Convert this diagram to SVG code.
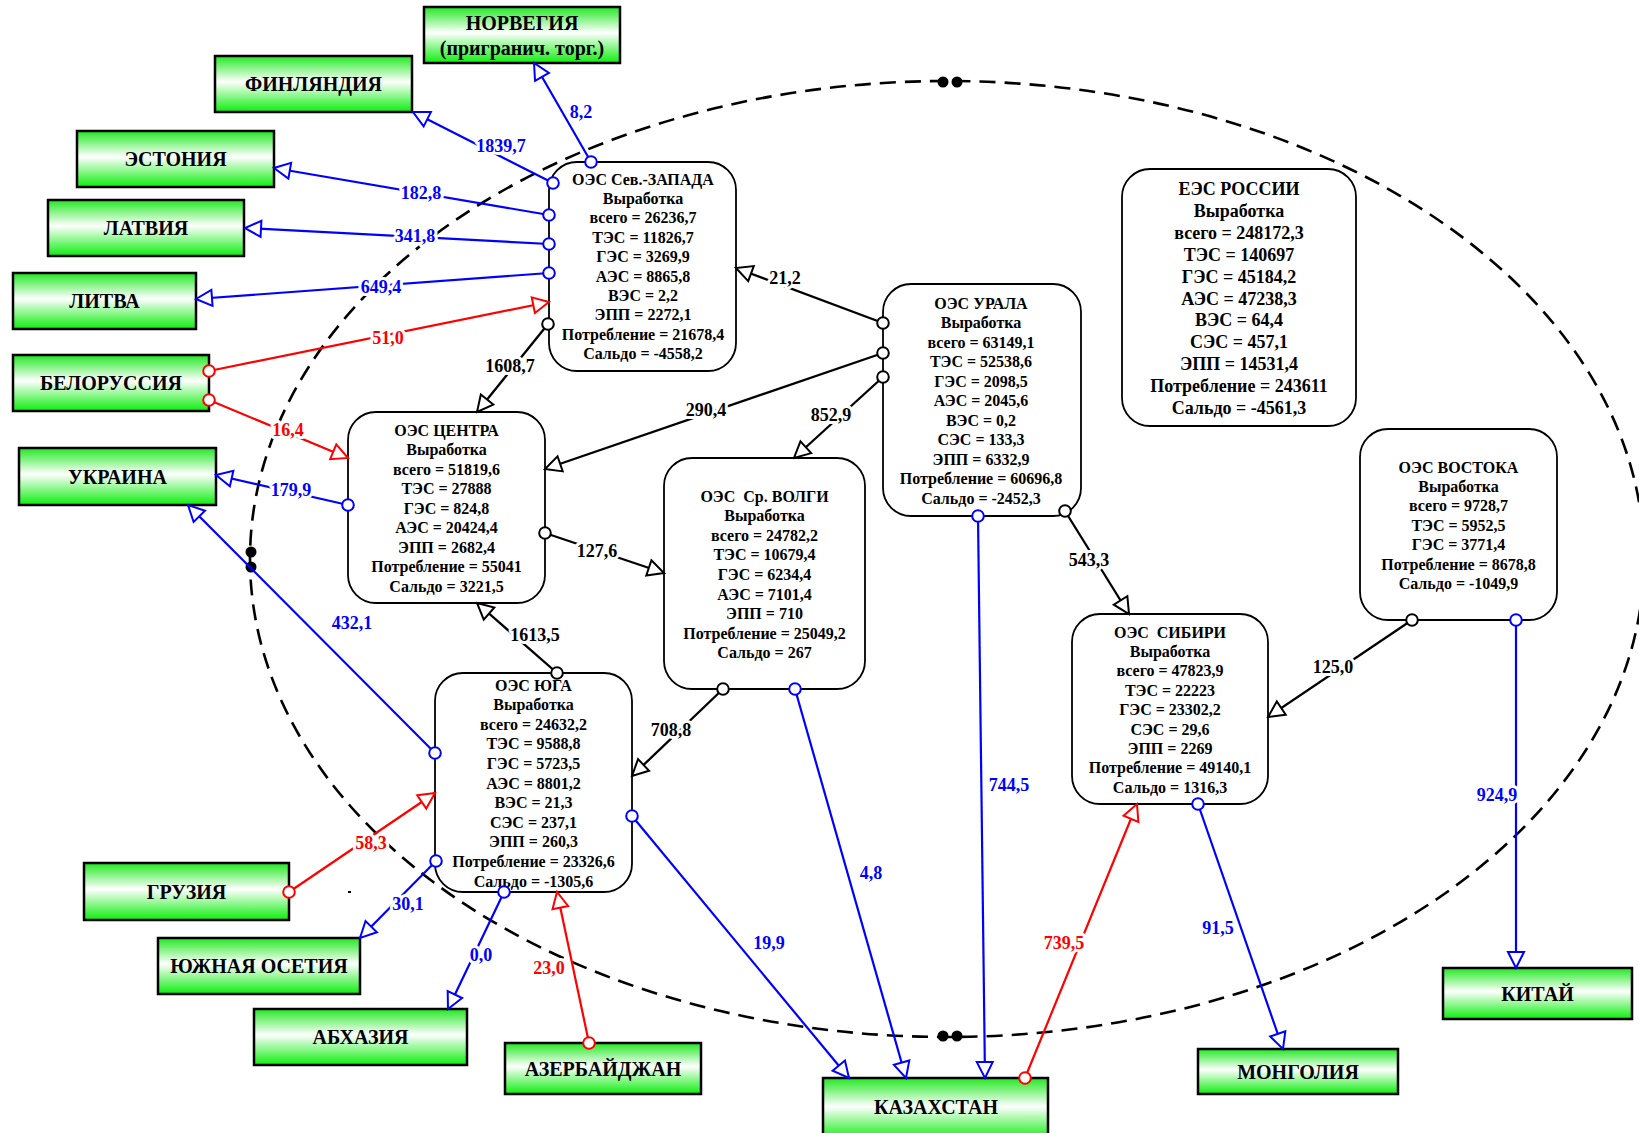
<svg xmlns="http://www.w3.org/2000/svg" width="1639" height="1133" viewBox="0 0 1639 1133">
<defs>
<linearGradient id="gg" x1="0" y1="0" x2="0" y2="1">
<stop offset="0" stop-color="#22e822"/>
<stop offset="0.46" stop-color="#ffffff"/>
<stop offset="1" stop-color="#0cee0c"/>
</linearGradient>
<marker id="ak" viewBox="-2 -2 20 20" refX="16" refY="8" markerWidth="20" markerHeight="20" orient="auto" markerUnits="userSpaceOnUse"><path d="M0,0 L16,8 L0,16 Z" fill="#fff" stroke="#000" stroke-width="2"/></marker>
<marker id="ab" viewBox="-2 -2 20 20" refX="16" refY="8" markerWidth="20" markerHeight="20" orient="auto" markerUnits="userSpaceOnUse"><path d="M0,0 L16,8 L0,16 Z" fill="#fff" stroke="#0000ff" stroke-width="2"/></marker>
<marker id="ar" viewBox="-2 -2 20 20" refX="16" refY="8" markerWidth="20" markerHeight="20" orient="auto" markerUnits="userSpaceOnUse"><path d="M0,0 L16,8 L0,16 Z" fill="#fff" stroke="#ff0000" stroke-width="2"/></marker>
<marker id="ck" viewBox="-8 -8 16 16" refX="0" refY="0" markerWidth="16" markerHeight="16" markerUnits="userSpaceOnUse"><circle r="5.8" fill="#fff" stroke="#000" stroke-width="2"/></marker>
<marker id="cb" viewBox="-8 -8 16 16" refX="0" refY="0" markerWidth="16" markerHeight="16" markerUnits="userSpaceOnUse"><circle r="5.8" fill="#fff" stroke="#0000ff" stroke-width="2"/></marker>
<marker id="cr" viewBox="-8 -8 16 16" refX="0" refY="0" markerWidth="16" markerHeight="16" markerUnits="userSpaceOnUse"><circle r="5.8" fill="#fff" stroke="#ff0000" stroke-width="2"/></marker>
</defs>
<style>
text{font-family:"Liberation Serif","Times New Roman",serif;font-weight:bold;text-anchor:middle}
.box{fill:url(#gg);stroke:#000;stroke-width:2.5}
.bt{font-size:20px;fill:#000}
.node{fill:#fff;stroke:#000;stroke-width:1.8}
.nt{font-size:16px;fill:#000}
.et{font-size:18px;fill:#000}
.k{stroke:#000;stroke-width:2.3;fill:none;marker-start:url(#ck);marker-end:url(#ak)}
.b{stroke:#0000ff;stroke-width:2.2;fill:none;marker-start:url(#cb);marker-end:url(#ab)}
.r{stroke:#ff0000;stroke-width:2.2;fill:none;marker-start:url(#cr);marker-end:url(#ar)}
.lbl{font-size:18px;paint-order:stroke;stroke:#fff;stroke-width:6;stroke-linejoin:round}
.lk{fill:#000}.lb{fill:#0000ff}.lr{fill:#ff0000}
</style>
<rect width="1639" height="1133" fill="#fff"/>
<g id="border">
<ellipse cx="947" cy="559" rx="697" ry="478" fill="none" stroke="#000" stroke-width="2.6" stroke-dasharray="16,9"/>
<circle cx="943" cy="82" r="5.5" fill="#000"/><circle cx="957" cy="82" r="5.5" fill="#000"/>
<circle cx="943" cy="1036" r="5.5" fill="#000"/><circle cx="957" cy="1036" r="5.5" fill="#000"/>
<circle cx="251" cy="552" r="5.5" fill="#000"/><circle cx="251" cy="567" r="5.5" fill="#000"/>
<rect x="348" y="891" width="3" height="2" fill="#000"/>
</g>
<g id="norway"><rect class="box" x="424" y="7" width="196" height="56"/><text class="bt" x="522" y="30">НОРВЕГИЯ</text><text class="bt" x="522" y="55">(пригранич. торг.)</text></g>
<g id="finland"><rect class="box" x="215" y="56" width="197" height="56"/><text class="bt" x="313.5" y="91">ФИНЛЯНДИЯ</text></g>
<g id="estonia"><rect class="box" x="77" y="131" width="197" height="56"/><text class="bt" x="175.5" y="166">ЭСТОНИЯ</text></g>
<g id="latvia"><rect class="box" x="48" y="200" width="196" height="56"/><text class="bt" x="146" y="235">ЛАТВИЯ</text></g>
<g id="lithuania"><rect class="box" x="13" y="273" width="183" height="56"/><text class="bt" x="104.5" y="308">ЛИТВА</text></g>
<g id="belarus"><rect class="box" x="13" y="355" width="196" height="56"/><text class="bt" x="111" y="390">БЕЛОРУССИЯ</text></g>
<g id="ukraine"><rect class="box" x="19" y="448" width="197" height="57"/><text class="bt" x="117.5" y="483.5">УКРАИНА</text></g>
<g id="georgia"><rect class="box" x="84" y="863" width="205" height="57"/><text class="bt" x="186.5" y="898.5">ГРУЗИЯ</text></g>
<g id="sossetia"><rect class="box" x="158" y="938" width="202" height="56"/><text class="bt" x="259" y="973">ЮЖНАЯ ОСЕТИЯ</text></g>
<g id="abkhazia"><rect class="box" x="254" y="1009" width="213" height="56"/><text class="bt" x="360.5" y="1044">АБХАЗИЯ</text></g>
<g id="azerbaijan"><rect class="box" x="505" y="1043" width="196" height="51"/><text class="bt" x="603" y="1075.5">АЗЕРБАЙДЖАН</text></g>
<g id="kazakhstan"><rect class="box" x="823" y="1078" width="225" height="62"/><text class="bt" x="936" y="1114">КАЗАХСТАН</text></g>
<g id="mongolia"><rect class="box" x="1198" y="1049" width="200" height="45"/><text class="bt" x="1298" y="1079">МОНГОЛИЯ</text></g>
<g id="china"><rect class="box" x="1443" y="968" width="189" height="51"/><text class="bt" x="1537.5" y="1000.5">КИТАЙ</text></g>

<g id="oes-nw"><rect class="node" x="549" y="162" width="187" height="209" rx="28"/>
<text class="nt"><tspan x="643" y="184.5">ОЭС Сев.-ЗАПАДА</tspan><tspan x="643" y="203.9">Выработка</tspan><tspan x="643" y="223.3">всего = 26236,7</tspan><tspan x="643" y="242.7">ТЭС = 11826,7</tspan><tspan x="643" y="262.1">ГЭС = 3269,9</tspan><tspan x="643" y="281.5">АЭС = 8865,8</tspan><tspan x="643" y="300.9">ВЭС = 2,2</tspan><tspan x="643" y="320.3">ЭПП = 2272,1</tspan><tspan x="643" y="339.7">Потребление = 21678,4</tspan><tspan x="643" y="359.1">Сальдо = -4558,2</tspan></text></g>
<g id="oes-ural"><rect class="node" x="883" y="284" width="198" height="232" rx="28"/>
<text class="nt"><tspan x="981" y="308.5">ОЭС УРАЛА</tspan><tspan x="981" y="328">Выработка</tspan><tspan x="981" y="347.5">всего = 63149,1</tspan><tspan x="981" y="367">ТЭС = 52538,6</tspan><tspan x="981" y="386.5">ГЭС = 2098,5</tspan><tspan x="981" y="406">АЭС = 2045,6</tspan><tspan x="981" y="425.5">ВЭС = 0,2</tspan><tspan x="981" y="445">СЭС = 133,3</tspan><tspan x="981" y="464.5">ЭПП = 6332,9</tspan><tspan x="981" y="484">Потребление = 60696,8</tspan><tspan x="981" y="503.5">Сальдо = -2452,3</tspan></text></g>
<g id="ees-russia"><rect class="node" x="1122" y="169" width="234" height="257" rx="28"/>
<text class="et"><tspan x="1239" y="195">ЕЭС РОССИИ</tspan><tspan x="1239" y="216.9">Выработка</tspan><tspan x="1239" y="238.8">всего = 248172,3</tspan><tspan x="1239" y="260.7">ТЭС = 140697</tspan><tspan x="1239" y="282.6">ГЭС = 45184,2</tspan><tspan x="1239" y="304.5">АЭС = 47238,3</tspan><tspan x="1239" y="326.4">ВЭС = 64,4</tspan><tspan x="1239" y="348.3">СЭС = 457,1</tspan><tspan x="1239" y="370.2">ЭПП = 14531,4</tspan><tspan x="1239" y="392.1">Потребление = 243611</tspan><tspan x="1239" y="414">Сальдо = -4561,3</tspan></text></g>
<g id="oes-center"><rect class="node" x="348" y="412" width="197" height="191" rx="28"/>
<text class="nt"><tspan x="446.5" y="435.5">ОЭС ЦЕНТРА</tspan><tspan x="446.5" y="455">Выработка</tspan><tspan x="446.5" y="474.5">всего = 51819,6</tspan><tspan x="446.5" y="494">ТЭС = 27888</tspan><tspan x="446.5" y="513.5">ГЭС = 824,8</tspan><tspan x="446.5" y="533">АЭС = 20424,4</tspan><tspan x="446.5" y="552.5">ЭПП = 2682,4</tspan><tspan x="446.5" y="572">Потребление = 55041</tspan><tspan x="446.5" y="591.5">Сальдо = 3221,5</tspan></text></g>
<g id="oes-volga"><rect class="node" x="664" y="458" width="201" height="231" rx="28"/>
<text class="nt"><tspan x="764.5" y="501.5">ОЭС&#160; Ср. ВОЛГИ</tspan><tspan x="764.5" y="521.1">Выработка</tspan><tspan x="764.5" y="540.7">всего = 24782,2</tspan><tspan x="764.5" y="560.3">ТЭС = 10679,4</tspan><tspan x="764.5" y="579.9">ГЭС = 6234,4</tspan><tspan x="764.5" y="599.5">АЭС = 7101,4</tspan><tspan x="764.5" y="619.1">ЭПП = 710</tspan><tspan x="764.5" y="638.7">Потребление = 25049,2</tspan><tspan x="764.5" y="658.3">Сальдо = 267</tspan></text></g>
<g id="oes-south"><rect class="node" x="435" y="673" width="197" height="219" rx="28"/>
<text class="nt"><tspan x="533.5" y="690.5">ОЭС ЮГА</tspan><tspan x="533.5" y="710.1">Выработка</tspan><tspan x="533.5" y="729.7">всего = 24632,2</tspan><tspan x="533.5" y="749.3">ТЭС = 9588,8</tspan><tspan x="533.5" y="768.9">ГЭС = 5723,5</tspan><tspan x="533.5" y="788.5">АЭС = 8801,2</tspan><tspan x="533.5" y="808.1">ВЭС = 21,3</tspan><tspan x="533.5" y="827.7">СЭС = 237,1</tspan><tspan x="533.5" y="847.3">ЭПП = 260,3</tspan><tspan x="533.5" y="866.9">Потребление = 23326,6</tspan><tspan x="533.5" y="886.5">Сальдо = -1305,6</tspan></text></g>
<g id="oes-east"><rect class="node" x="1360" y="429" width="197" height="191" rx="28"/>
<text class="nt"><tspan x="1458.5" y="472.5">ОЭС ВОСТОКА</tspan><tspan x="1458.5" y="491.9">Выработка</tspan><tspan x="1458.5" y="511.3">всего = 9728,7</tspan><tspan x="1458.5" y="530.7">ТЭС = 5952,5</tspan><tspan x="1458.5" y="550.1">ГЭС = 3771,4</tspan><tspan x="1458.5" y="569.5">Потребление = 8678,8</tspan><tspan x="1458.5" y="588.9">Сальдо = -1049,9</tspan></text></g>
<g id="oes-siberia"><rect class="node" x="1072" y="614" width="196" height="190" rx="28"/>
<text class="nt"><tspan x="1170" y="637.5">ОЭС&#160; СИБИРИ</tspan><tspan x="1170" y="656.9">Выработка</tspan><tspan x="1170" y="676.3">всего = 47823,9</tspan><tspan x="1170" y="695.7">ТЭС = 22223</tspan><tspan x="1170" y="715.1">ГЭС = 23302,2</tspan><tspan x="1170" y="734.5">СЭС = 29,6</tspan><tspan x="1170" y="753.9">ЭПП = 2269</tspan><tspan x="1170" y="773.3">Потребление = 49140,1</tspan><tspan x="1170" y="792.7">Сальдо = 1316,3</tspan></text></g>

<g id="connectors">
<path class="k" d="M883,323 L736,268"/>
<path class="k" d="M548,324 L477,412"/>
<path class="k" d="M883,353 L545,469"/>
<path class="k" d="M883,377 L794,458"/>
<path class="k" d="M545,533 L664,573"/>
<path class="k" d="M557,673 L477,603"/>
<path class="k" d="M723,689 L632,776"/>
<path class="k" d="M1065,511 L1129,614"/>
<path class="k" d="M1412,620 L1268,717"/>
<path class="b" d="M591,162 L534,63"/>
<path class="b" d="M553,183 L413,112"/>
<path class="b" d="M549,215 L274,168"/>
<path class="b" d="M549,244 L245,228"/>
<path class="b" d="M549,273 L196,299"/>
<path class="b" d="M348,505 L216,475"/>
<path class="b" d="M435,753 L188,505"/>
<path class="b" d="M436,861 L360,938"/>
<path class="b" d="M504,892 L448,1009"/>
<path class="b" d="M632,816 L849,1078"/>
<path class="b" d="M795,689 L906,1078"/>
<path class="b" d="M978,516 L985,1078"/>
<path class="b" d="M1198,804 L1283,1049"/>
<path class="b" d="M1516,620 L1516,968"/>
<path class="r" d="M209,371 L549,302"/>
<path class="r" d="M209,400 L348,458"/>
<path class="r" d="M289,892 L435,793"/>
<path class="r" d="M589,1043 L557,892"/>
<path class="r" d="M1025,1078 L1137,804"/>
</g>
<g id="labels">
<text class="lbl lk" x="785" y="284">21,2</text>
<text class="lbl lk" x="510" y="372">1608,7</text>
<text class="lbl lk" x="706" y="416">290,4</text>
<text class="lbl lk" x="831" y="421">852,9</text>
<text class="lbl lk" x="597" y="557">127,6</text>
<text class="lbl lk" x="535" y="641">1613,5</text>
<text class="lbl lk" x="671" y="736">708,8</text>
<text class="lbl lk" x="1089" y="566">543,3</text>
<text class="lbl lk" x="1333" y="673">125,0</text>
<text class="lbl lb" x="581" y="118">8,2</text>
<text class="lbl lb" x="501" y="152">1839,7</text>
<text class="lbl lb" x="421" y="199">182,8</text>
<text class="lbl lb" x="415" y="242">341,8</text>
<text class="lbl lb" x="381" y="293">649,4</text>
<text class="lbl lb" x="291" y="496">179,9</text>
<text class="lbl lb" x="352" y="629">432,1</text>
<text class="lbl lb" x="408" y="910">30,1</text>
<text class="lbl lb" x="481" y="961">0,0</text>
<text class="lbl lb" x="769" y="949">19,9</text>
<text class="lbl lb" x="871" y="879">4,8</text>
<text class="lbl lb" x="1009" y="791">744,5</text>
<text class="lbl lb" x="1218" y="934">91,5</text>
<text class="lbl lb" x="1497" y="801">924,9</text>
<text class="lbl lr" x="388" y="344">51,0</text>
<text class="lbl lr" x="288" y="436">16,4</text>
<text class="lbl lr" x="371" y="849">58,3</text>
<text class="lbl lr" x="549" y="974">23,0</text>
<text class="lbl lr" x="1064" y="949">739,5</text>
</g>
</svg>
